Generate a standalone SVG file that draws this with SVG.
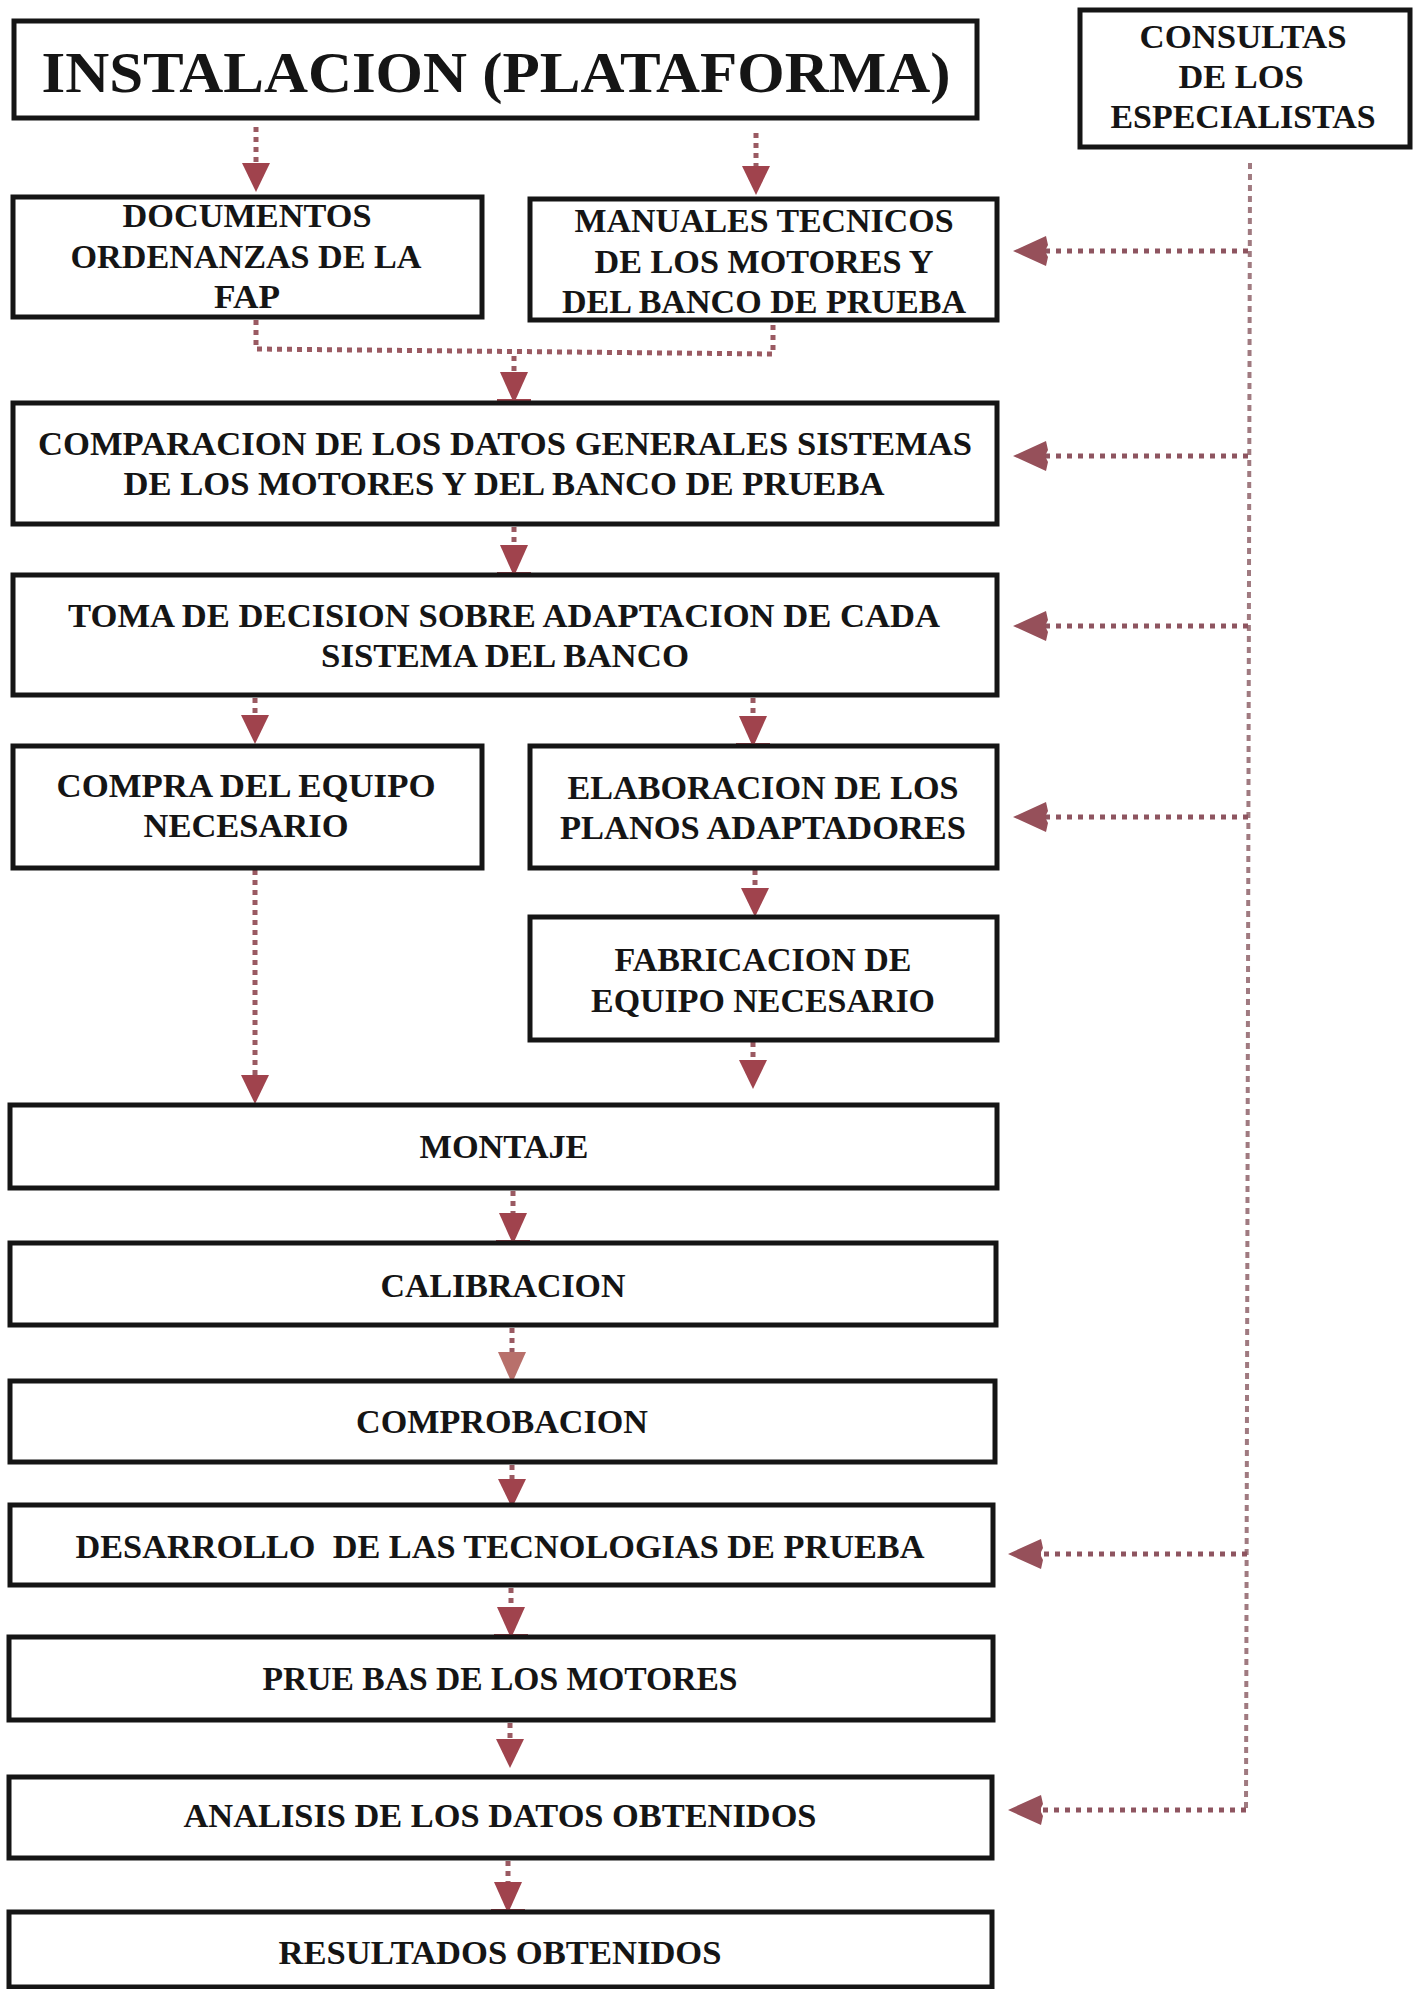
<svg xmlns="http://www.w3.org/2000/svg" width="1418" height="1989" viewBox="0 0 1418 1989">
<style>
.box{fill:#fff;stroke:#151515;stroke-width:5}
.t{font-family:"Liberation Serif","Times New Roman",serif;font-weight:bold;fill:#151515;text-anchor:middle;font-size:33px}
.big{font-size:57px}
.dv{fill:none;stroke:#9a5a62;stroke-width:5;stroke-dasharray:5 5}
.dh{fill:none;stroke:#8e5560;stroke-width:5;stroke-dasharray:5 6}
.vl{fill:none;stroke:#a07a80;stroke-width:4;stroke-dasharray:6 5}
</style>
<defs>
<marker id="hd" markerUnits="userSpaceOnUse" markerWidth="40" markerHeight="40" viewBox="0 -20 34 40" refX="0" refY="0" orient="auto">
<path d="M0,-14 L28,-1.5 L28,1.5 L0,14 Z" fill="#a0434d"/>
<rect x="27" y="-17" width="4" height="34" fill="#a0434d"/>
</marker>
<marker id="hn" markerUnits="userSpaceOnUse" markerWidth="40" markerHeight="40" viewBox="0 -20 34 40" refX="0" refY="0" orient="auto">
<path d="M0,-14 L29,0 L0,14 Z" fill="#a0434d"/>
</marker>
<marker id="hl" markerUnits="userSpaceOnUse" markerWidth="40" markerHeight="40" viewBox="0 -20 34 40" refX="0" refY="0" orient="auto">
<path d="M0,-14 L28,-1.5 L28,1.5 L0,14 Z" fill="#b8706b"/>
<rect x="27" y="-17" width="4" height="34" fill="#b8706b"/>
</marker>
<marker id="hh" markerUnits="userSpaceOnUse" markerWidth="40" markerHeight="40" viewBox="-2 -20 38 40" refX="0" refY="0" orient="auto">
<path d="M0,-2 L-2,-6 L0,-15 L33,0 L0,15 L-2,6 L0,2 Z" fill="#96505a"/>
</marker>
</defs>

<g id="connectors">
<path class="dv" d="M256,127 V163" marker-end="url(#hn)"/>
<path class="dv" d="M756,133 V166" marker-end="url(#hn)"/>
<path class="dv" d="M256,320 V349 L773,354 V322"/>
<path class="dv" d="M514,356 V372" marker-end="url(#hd)"/>
<path class="dv" d="M514,527 V545" marker-end="url(#hd)"/>
<path class="dv" d="M255,698 V715" marker-end="url(#hn)"/>
<path class="dv" d="M753,698 V716" marker-end="url(#hd)"/>
<path class="dv" d="M755,870 V888" marker-end="url(#hn)"/>
<path class="dv" d="M255,870 V1075" marker-end="url(#hn)"/>
<path class="dv" d="M753,1042 V1060" marker-end="url(#hn)"/>
<path class="dv" d="M513,1191 V1213" marker-end="url(#hd)"/>
<path class="dv" d="M512,1328 V1352" marker-end="url(#hl)"/>
<path class="dv" d="M512,1465 V1479" marker-end="url(#hn)"/>
<path class="dv" d="M511,1588 V1607" marker-end="url(#hd)"/>
<path class="dv" d="M510,1723 V1739" marker-end="url(#hn)"/>
<path class="dv" d="M508,1861 V1882" marker-end="url(#hd)"/>
<path class="vl" d="M1250,163 L1246,1812"/>
<path class="dh" d="M1248,251 H1046" marker-end="url(#hh)"/>
<path class="dh" d="M1248,456 H1046" marker-end="url(#hh)"/>
<path class="dh" d="M1248,626 H1046" marker-end="url(#hh)"/>
<path class="dh" d="M1248,817 H1046" marker-end="url(#hh)"/>
<path class="dh" d="M1247,1554 H1041" marker-end="url(#hh)"/>
<path class="dh" d="M1246,1810 H1041" marker-end="url(#hh)"/>
</g>

<g id="n-instalacion">
<rect class="box" x="14" y="21" width="963" height="97"/>
<text class="t big" x="496" y="92" textLength="909" lengthAdjust="spacingAndGlyphs">INSTALACION (PLATAFORMA)</text>
</g>
<g id="n-consultas">
<rect class="box" x="1080" y="10" width="330" height="137"/>
<text class="t" x="1243" y="48" textLength="207" lengthAdjust="spacingAndGlyphs">CONSULTAS</text>
<text class="t" x="1241" y="88" textLength="125" lengthAdjust="spacingAndGlyphs">DE LOS</text>
<text class="t" x="1243" y="128" textLength="265" lengthAdjust="spacingAndGlyphs">ESPECIALISTAS</text>
</g>
<g id="n-documentos">
<rect class="box" x="13" y="197" width="469" height="120"/>
<text class="t" x="247" y="227" textLength="249" lengthAdjust="spacingAndGlyphs">DOCUMENTOS</text>
<text class="t" x="246" y="268" textLength="351" lengthAdjust="spacingAndGlyphs">ORDENANZAS DE LA</text>
<text class="t" x="247" y="308" textLength="66" lengthAdjust="spacingAndGlyphs">FAP</text>
</g>
<g id="n-manuales">
<rect class="box" x="530" y="199" width="467" height="121"/>
<text class="t" x="764" y="232" textLength="379" lengthAdjust="spacingAndGlyphs">MANUALES TECNICOS</text>
<text class="t" x="764" y="273" textLength="339" lengthAdjust="spacingAndGlyphs">DE LOS MOTORES Y</text>
<text class="t" x="764" y="313" textLength="404" lengthAdjust="spacingAndGlyphs">DEL BANCO DE PRUEBA</text>
</g>
<g id="n-comparacion">
<rect class="box" x="13" y="403" width="984" height="121"/>
<text class="t" x="505" y="455" textLength="934" lengthAdjust="spacingAndGlyphs">COMPARACION DE LOS DATOS GENERALES SISTEMAS</text>
<text class="t" x="504" y="495" textLength="761" lengthAdjust="spacingAndGlyphs">DE LOS MOTORES Y DEL BANCO DE PRUEBA</text>
</g>
<g id="n-toma">
<rect class="box" x="13" y="575" width="984" height="120"/>
<text class="t" x="504" y="627" textLength="872" lengthAdjust="spacingAndGlyphs">TOMA DE DECISION SOBRE ADAPTACION DE CADA</text>
<text class="t" x="505" y="667" textLength="368" lengthAdjust="spacingAndGlyphs">SISTEMA DEL BANCO</text>
</g>
<g id="n-compra">
<rect class="box" x="13" y="746" width="469" height="122"/>
<text class="t" x="246" y="797" textLength="379" lengthAdjust="spacingAndGlyphs">COMPRA DEL EQUIPO</text>
<text class="t" x="246" y="837" textLength="205" lengthAdjust="spacingAndGlyphs">NECESARIO</text>
</g>
<g id="n-elaboracion">
<rect class="box" x="530" y="746" width="467" height="122"/>
<text class="t" x="763" y="799" textLength="391" lengthAdjust="spacingAndGlyphs">ELABORACION DE LOS</text>
<text class="t" x="763" y="839" textLength="406" lengthAdjust="spacingAndGlyphs">PLANOS ADAPTADORES</text>
</g>
<g id="n-fabricacion">
<rect class="box" x="530" y="917" width="467" height="123"/>
<text class="t" x="763" y="971" textLength="297" lengthAdjust="spacingAndGlyphs">FABRICACION DE</text>
<text class="t" x="763" y="1012" textLength="344" lengthAdjust="spacingAndGlyphs">EQUIPO NECESARIO</text>
</g>
<g id="n-montaje">
<rect class="box" x="10" y="1105" width="987" height="83"/>
<text class="t" x="504" y="1158" textLength="169" lengthAdjust="spacingAndGlyphs">MONTAJE</text>
</g>
<g id="n-calibracion">
<rect class="box" x="10" y="1243" width="986" height="82"/>
<text class="t" x="503" y="1297" textLength="245" lengthAdjust="spacingAndGlyphs">CALIBRACION</text>
</g>
<g id="n-comprobacion">
<rect class="box" x="10" y="1381" width="985" height="81"/>
<text class="t" x="502" y="1433" textLength="292" lengthAdjust="spacingAndGlyphs">COMPROBACION</text>
</g>
<g id="n-desarrollo">
<rect class="box" x="10" y="1505" width="983" height="80"/>
<text class="t" x="500" y="1558" textLength="849" lengthAdjust="spacingAndGlyphs">DESARROLLO&#160; DE LAS TECNOLOGIAS DE PRUEBA</text>
</g>
<g id="n-pruebas">
<rect class="box" x="9" y="1637" width="984" height="83"/>
<text class="t" x="500" y="1690" textLength="475" lengthAdjust="spacingAndGlyphs">PRUE BAS DE LOS MOTORES</text>
</g>
<g id="n-analisis">
<rect class="box" x="9" y="1777" width="983" height="81"/>
<text class="t" x="500" y="1827" textLength="633" lengthAdjust="spacingAndGlyphs">ANALISIS DE LOS DATOS OBTENIDOS</text>
</g>
<g id="n-resultados">
<rect class="box" x="9" y="1912" width="983" height="75"/>
<text class="t" x="500" y="1964" textLength="443" lengthAdjust="spacingAndGlyphs">RESULTADOS OBTENIDOS</text>
</g>
</svg>
